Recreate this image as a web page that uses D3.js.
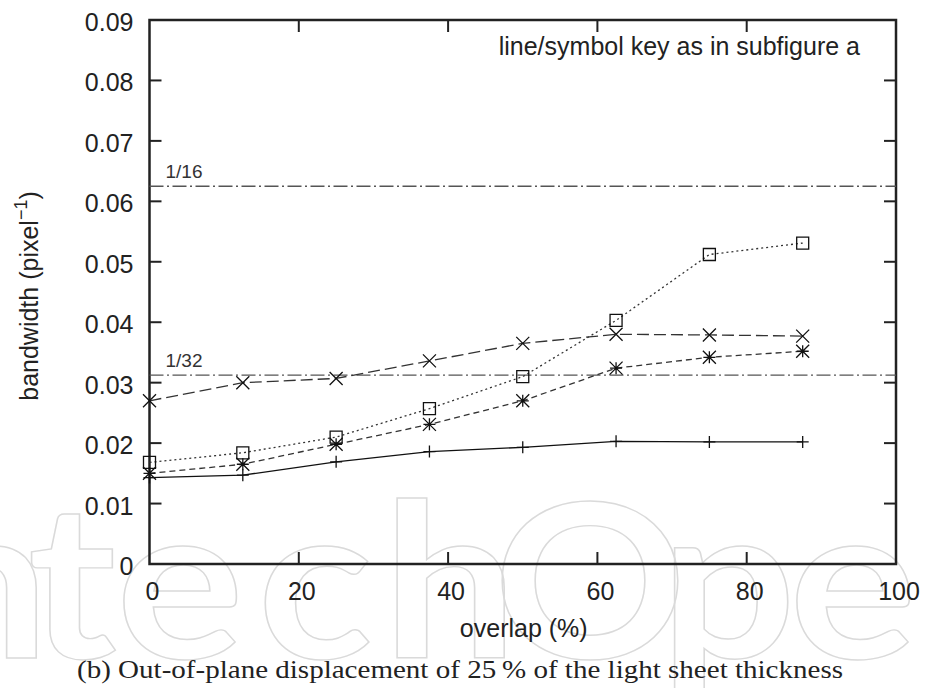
<!DOCTYPE html>
<html>
<head>
<meta charset="utf-8">
<script src="https://cdn.jsdelivr.net/npm/d3@7"></script>
<style>
  body { margin: 0; background: #fff; }
  svg { display: block; }
</style>
</head>
<body>
<svg id="chart"></svg>
<script>
// values
var overlap = [0, 12.5, 25, 37.5, 50, 62.5, 75, 87.5];
var plusVals   = [0.0143, 0.0147, 0.0169, 0.0186, 0.0193, 0.0203, 0.0202, 0.0202];
var crossVals  = [0.0270, 0.0300, 0.0307, 0.0336, 0.0365, 0.0380, 0.0379, 0.0377];
var starVals   = [0.0150, 0.0165, 0.0198, 0.0231, 0.0270, 0.0324, 0.0342, 0.0352];
var squareVals = [0.0168, 0.0184, 0.0210, 0.0257, 0.0310, 0.0403, 0.0512, 0.0531];
var refValues = [1/16, 1/32];
var refLabels = ["1/16", "1/32"];
var xTicks = [0, 20, 40, 60, 80, 100];
var yTicks = [0, 0.01, 0.02, 0.03, 0.04, 0.05, 0.06, 0.07, 0.08, 0.09];
var wmLetters = ["n", "t", "e", "c", "h", "O", "p", "e"];
var wmCenters = [-18, 72, 180, 315, 450, 590, 728, 853];

var W = 925, H = 688;
var margin = {left: 149.5, right: 29, top: 20, bottom: 124};
var ink = "#222";
var font = "'Liberation Sans', Arial, Helvetica, sans-serif";

var svg = d3.select("#chart").attr("width", W).attr("height", H);

//watermark behind everything (outlined letters, stretched a bit to look round)
svg.append("g").selectAll("text")
  .data(wmLetters).enter().append("text")
  .attr("transform", function (d, i) { return "translate(" + wmCenters[i] + ",658) scale(1.12,1)"; })
  .attr("text-anchor", "middle")
  .style("font-family", "Lato, 'DejaVu Sans', sans-serif")
  .style("font-weight", "bold")
  .style("font-size", "214px")
  .style("fill", "none")
  .style("stroke", "#dadada")
  .style("stroke-width", 1.4)
  .text(function (d) { return d; });

var x = d3.scaleLinear().domain([0, 100]).range([margin.left, W - margin.right]);
var y = d3.scaleLinear().domain([0, 0.09]).range([H - margin.bottom, margin.top]);

var g = svg.append("g");

// frame
g.append("rect")
  .attr("x", x(0)).attr("y", y(0.09))
  .attr("width", x(100) - x(0)).attr("height", y(0) - y(0.09))
  .style("fill", "none").style("stroke", ink).style("stroke-width", 2.5);

// inward ticks on all four sides (mirror)
var tl = 12;
g.selectAll("line.xt").data(xTicks.slice(1, -1)).enter().append("line")
  .attr("x1", function (d) { return x(d); }).attr("x2", function (d) { return x(d); })
  .attr("y1", y(0)).attr("y2", y(0) - tl)
  .style("stroke", ink).style("stroke-width", 2);
g.selectAll("line.xt2").data(xTicks.slice(1, -1)).enter().append("line")
  .attr("x1", function (d) { return x(d); }).attr("x2", function (d) { return x(d); })
  .attr("y1", y(0.09)).attr("y2", y(0.09) + tl)
  .style("stroke", ink).style("stroke-width", 2);
g.selectAll("line.yt").data(yTicks.slice(1, -1)).enter().append("line")
  .attr("x1", x(0)).attr("x2", x(0) + tl)
  .attr("y1", function (d) { return y(d); }).attr("y2", function (d) { return y(d); })
  .style("stroke", ink).style("stroke-width", 2);
g.selectAll("line.yt2").data(yTicks.slice(1, -1)).enter().append("line")
  .attr("x1", x(100)).attr("x2", x(100) - tl)
  .attr("y1", function (d) { return y(d); }).attr("y2", function (d) { return y(d); })
  .style("stroke", ink).style("stroke-width", 2);

// tick labels
g.selectAll("text.xl").data(xTicks).enter().append("text")
  .attr("x", function (d) { return x(d) + 3; })
  .attr("y", y(0) + 36)
  .attr("text-anchor", "middle")
  .style("font-family", font).style("font-size", "25px").style("fill", ink)
  .text(function (d) { return d; });
g.selectAll("text.yl").data(yTicks).enter().append("text")
  .attr("x", x(0) - 16)
  .attr("y", function (d) { return y(d) + 11; })
  .attr("text-anchor", "end")
  .style("font-family", font).style("font-size", "25px").style("fill", ink)
  .text(function (d) { return d === 0 ? "0" : d3.format(".2f")(d); });

// axis titles
g.append("text")
  .attr("x", (x(0) + x(100)) / 2 + 1).attr("y", 637)
  .attr("text-anchor", "middle")
  .style("font-family", font).style("font-size", "25px").style("fill", ink)
  .text("overlap (%)");
var yt = g.append("text")
  .attr("transform", "translate(38," + ((y(0) + y(0.09)) / 2 + 4) + ") rotate(-90)")
  .attr("text-anchor", "middle")
  .style("font-family", font).style("font-size", "25px").style("fill", ink);
yt.append("tspan").text("bandwidth (pixel");
yt.append("tspan").attr("dy", -11).style("font-size", "18px").text("\u22121");
yt.append("tspan").attr("dy", 11).text(")");

// key note
g.append("text")
  .attr("x", 860).attr("y", 55)
  .attr("text-anchor", "end")
  .style("font-family", font).style("font-size", "25px").style("fill", ink)
  .text("line/symbol key as in subfigure a");

// reference lines 1/16, 1/32
g.selectAll("line.ref").data(refValues).enter().append("line")
  .attr("x1", x(0)).attr("x2", x(100))
  .attr("y1", function (d) { return y(d); }).attr("y2", function (d) { return y(d); })
  .style("stroke", "#555").style("stroke-width", 1.4)
  .style("stroke-dasharray", "14,3.5,2,3.5");
g.selectAll("text.ref").data(refValues).enter().append("text")
  .attr("x", x(0) + 16)
  .attr("y", function (d) { return y(d) - 8; })
  .style("font-family", font).style("font-size", "19px").style("fill", "#333")
  .text(function (d, i) { return refLabels[i]; });

// series
function markerPath(type) {
  var p = "M-6,0H6M0,-6V6", c = "M-6.5,-6.5L6.5,6.5M-6.5,6.5L6.5,-6.5";
  if (type === "plus") return p;
  if (type === "cross") return c;
  if (type === "star") return p + c;
  return "M-6,-6H6V6H-6Z";
}

var series = [
  {vals: plusVals, type: "plus", dash: null, color: "#111"},
  {vals: crossVals, type: "cross", dash: "12,5", color: "#333"},
  {vals: starVals, type: "star", dash: "6,4", color: "#333"},
  {vals: squareVals, type: "square", dash: "2,3", color: "#333"}
];

var line = d3.line()
  .x(function (d, i) { return x(overlap[i]); })
  .y(function (d) { return y(d); });

series.forEach(function (s) {
  g.append("path")
    .datum(s.vals)
    .attr("d", line)
    .style("fill", "none")
    .style("stroke", s.color)
    .style("stroke-width", 1.3)
    .style("stroke-dasharray", s.dash);
  g.selectAll(null).data(s.vals).enter().append("path")
    .attr("transform", function (d, i) { return "translate(" + x(overlap[i]) + "," + y(d) + ")"; })
    .attr("d", markerPath(s.type))
    .style("fill", "none")
    .style("stroke", "#111")
    .style("stroke-width", 1.3);
});

// caption
svg.append("text")
  .attr("x", 77).attr("y", 678)
  .attr("textLength", 766).attr("lengthAdjust", "spacingAndGlyphs")
  .style("font-family", "'Liberation Serif', 'Times New Roman', serif")
  .style("font-size", "26px").style("fill", ink)
  .text("(b) Out-of-plane displacement of 25\u2009% of the light sheet thickness");
</script>
</body>
</html>
